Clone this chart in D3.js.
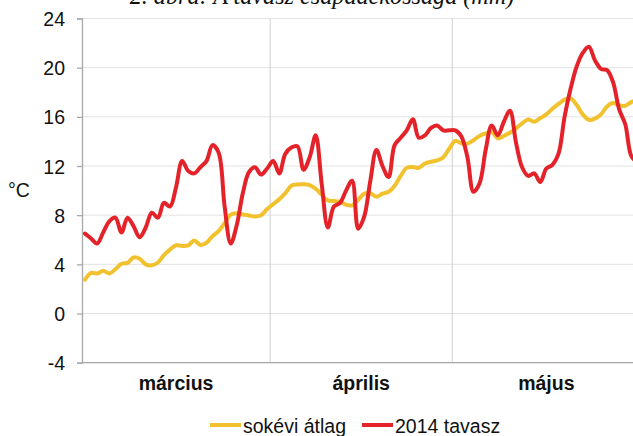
<!DOCTYPE html>
<html>
<head>
<meta charset="utf-8">
<script src="https://cdn.jsdelivr.net/npm/d3@7"></script>
<style>
  html, body { margin: 0; padding: 0; background: #fff; }
  svg { display: block; }
</style>
</head>
<body>
<svg id="chart" width="633" height="436"></svg>
<script>
// ---- data ----
const titleText = "2. ábra: A tavasz csapadékossága (mm)";
const yLabel = "°C";
const months = ["március", "április", "május"];
const monthDays = [31, 30, 31];
const yTicks = [-4, 0, 4, 8, 12, 16, 20, 24];
const yTickLabels = ["-4", "0", "4", "8", "12", "16", "20", "24"];
const seriesNames = ["sokévi átlag", "2014 tavasz"];

// daily values, 1 March .. 31 May
const avgValues = [
  2.75, 3.3, 3.26, 3.47, 3.26, 3.6, 4.05, 4.12, 4.56, 4.45,
  4.0, 3.92, 4.15, 4.75, 5.2, 5.55, 5.5, 5.55, 5.95, 5.58,
  5.75, 6.3, 6.7, 7.35, 8.05, 8.15, 8.05, 7.98, 7.9, 8.0,
  8.5,
  8.9, 9.3, 9.8, 10.4, 10.5, 10.52, 10.45, 10.15, 9.65, 9.2,
  9.15, 9.08, 8.85, 8.8, 9.25, 9.75, 9.78, 9.5, 9.75, 9.9,
  10.4, 11.2, 11.85, 11.92, 11.85, 12.2, 12.35, 12.45, 12.7, 13.4,
  14.05, 13.84, 13.82, 14.1, 14.45, 14.65, 14.78, 14.25, 14.45, 14.7,
  15.06, 15.47, 15.79, 15.6, 15.9, 16.2, 16.65, 17.05, 17.4, 17.5,
  16.96, 16.2, 15.75, 15.85, 16.2, 16.85, 17.12, 16.95, 16.9, 17.2,
  17.4
];
const y2014Values = [
  6.5, 6.1, 5.7, 6.6, 7.5, 7.8, 6.6, 7.8, 7.1, 6.2,
  7.0, 8.2, 7.8, 9.0, 8.7, 10.3, 12.4, 11.6, 11.4, 11.9,
  12.4, 13.7, 13.1, 8.7, 5.7, 7.2, 9.8, 11.5, 11.9, 11.3,
  11.8,
  12.4, 11.4, 13.0, 13.5, 13.6, 11.7, 12.7, 14.5, 10.5, 7.0,
  8.7, 9.0, 10.0, 10.8, 6.9, 7.9, 10.8, 13.3, 12.0, 11.1,
  13.7, 14.3, 14.9, 15.8, 14.3, 14.5, 15.1, 15.3, 14.9, 14.9,
  14.9, 14.4, 12.7, 9.9, 10.6, 13.3, 15.3, 14.5, 15.6, 16.5,
  13.9, 11.9, 11.2, 11.4, 10.7, 11.8, 12.1, 13.0, 16.0, 18.3,
  20.1, 21.2, 21.7, 20.6, 19.9, 19.8, 18.8, 16.6, 15.4, 12.8,
  12.3
];

// ---- layout ----
const svg = d3.select("#chart");
const fontSans = "Arial, 'Liberation Sans', sans-serif";
const plotLeft = 82, plotTop = 18.5, plotBottom = 362.7, dayW = 6.07;
const totalDays = d3.sum(monthDays);

const x = d3.scaleLinear().domain([0, totalDays]).range([plotLeft, plotLeft + totalDays * dayW]);
const y = d3.scaleLinear().domain([-4, 24]).range([plotBottom, plotTop]);

const colors = ["#f2c12e", "#e3222a"];

// horizontal gridlines
svg.append("g").selectAll("line").data(yTicks).join("line")
  .attr("x1", plotLeft).attr("x2", x(totalDays))
  .attr("y1", d => y(d)).attr("y2", d => y(d))
  .attr("stroke", "#e3e3e3").attr("stroke-width", 1);

// month boundaries
const bounds = d3.cumsum(monthDays).slice(0, -1);
svg.append("g").selectAll("line").data(bounds).join("line")
  .attr("x1", d => x(d)).attr("x2", d => x(d))
  .attr("y1", plotTop).attr("y2", plotBottom)
  .attr("stroke", "#cfcfcf").attr("stroke-width", 1);

// y axis
const yAxis = d3.axisLeft(y).tickValues(yTicks).tickSize(5).tickPadding(12)
  .tickFormat((d, i) => yTickLabels[i]);
const ya = svg.append("g").attr("transform", `translate(${plotLeft},0)`).call(yAxis);
ya.select(".domain").attr("stroke", "#a8a8a8").attr("stroke-width", 1.3);
ya.selectAll(".tick line").attr("stroke", "#a8a8a8").attr("stroke-width", 1.3);
ya.selectAll(".tick text")
  .attr("font-family", fontSans).attr("font-size", "19.5px").attr("fill", "#111")
  .attr("dy", "0.36em");

// x axis line
svg.append("line")
  .attr("x1", plotLeft).attr("x2", x(totalDays))
  .attr("y1", plotBottom).attr("y2", plotBottom)
  .attr("stroke", "#a8a8a8").attr("stroke-width", 1.3);

// month labels
const starts = [0, ...bounds];
svg.append("g").selectAll("text").data(months).join("text")
  .attr("x", (d, i) => x(starts[i] + monthDays[i] / 2))
  .attr("y", 390)
  .attr("text-anchor", "middle")
  .attr("font-family", fontSans).attr("font-weight", "bold")
  .attr("font-size", "19.5px").attr("fill", "#111")
  .text(d => d);

// y label
svg.append("text").attr("x", 8).attr("y", 197)
  .attr("font-family", fontSans).attr("font-size", "19.5px").attr("fill", "#111")
  .text(yLabel);

// title (cut off at the top, as in the source figure)
const t = svg.append("text").attr("x", 322).attr("y", 4)
  .attr("text-anchor", "middle")
  .attr("font-family", "'Times New Roman', 'Liberation Serif', serif")
  .attr("font-style", "italic").attr("font-size", "22px").attr("fill", "#111")
  .text(titleText);
const tw = t.node().getComputedTextLength();
if (tw > 0) t.attr("font-size", (22 * 385 / tw).toFixed(2) + "px");

// lines
const line = d3.line()
  .x((d, i) => x(i + 0.5))
  .y(d => y(d))
  .curve(d3.curveCatmullRom.alpha(0.5));

[avgValues, y2014Values].forEach((vals, k) => {
  svg.append("path").datum(vals)
    .attr("d", line)
    .attr("fill", "none")
    .attr("stroke", colors[k])
    .attr("stroke-width", 4)
    .attr("stroke-linejoin", "round")
    .attr("stroke-linecap", "round");
});

// legend
const legendItems = [
  { name: seriesNames[0], color: colors[0], x: 210 },
  { name: seriesNames[1], color: colors[1], x: 362 }
];
const lg = svg.append("g");
legendItems.forEach(it => {
  lg.append("line").attr("x1", it.x).attr("x2", it.x + 31)
    .attr("y1", 425).attr("y2", 425)
    .attr("stroke", it.color).attr("stroke-width", 4);
  lg.append("text").attr("x", it.x + 33).attr("y", 433)
    .attr("font-family", fontSans).attr("font-size", "19.5px").attr("fill", "#111")
    .text(it.name);
});
</script>
</body>
</html>
